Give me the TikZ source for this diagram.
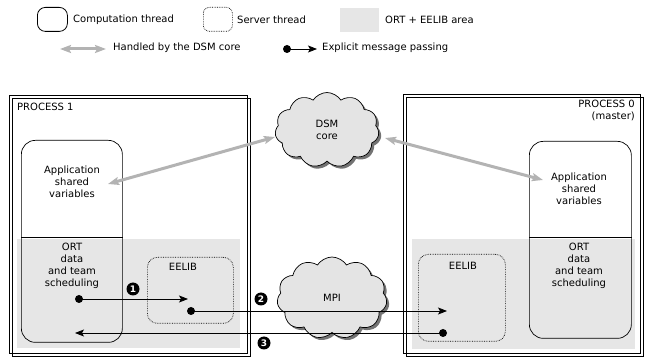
\documentclass[tikz,border=0pt]{standalone}
\usepackage{fontspec}
\setmainfont{DejaVu Sans}
\usetikzlibrary{arrows.meta,shapes.symbols,shadows}
\definecolor{areagray}{HTML}{E6E6E6}
\definecolor{dsmgray}{HTML}{B3B3B3}
\definecolor{cloudgray}{HTML}{E4E4E4}
\begin{document}
\begin{tikzpicture}[x=1pt,y=-1pt,font=\fontsize{10}{12}\selectfont,
  procbox/.style={draw,line width=0.6pt,anchor=north west,inner sep=0},
  areabox/.style={fill=areagray,anchor=north west,inner sep=0},
  compbox/.style={draw,line width=0.7pt,rounded corners=14pt,anchor=north west,inner sep=0},
  srvbox/.style={draw,line width=0.7pt,densely dotted,rounded corners=10pt,anchor=north west,inner sep=0},
  lbl/.style={inner sep=0,align=center},
  lglabel/.style={inner sep=0,anchor=west},
  cloudnode/.style={cloud,cloud puffs=11,cloud puff arc=115,cloud ignores aspect,draw,line width=0.7pt,fill=cloudgray,inner sep=0,
     drop shadow={shadow xshift=2.5pt,shadow yshift=-2.5pt,fill=black!55,opacity=1}},
  dsmarrow/.style={draw=dsmgray,line width=3pt,{Stealth[length=11pt,width=8pt,inset=2pt]}-{Stealth[length=11pt,width=8pt,inset=2pt]}},
  msg/.style={draw,line width=0.8pt,-{Stealth[length=9pt,width=7pt,inset=2pt]}},
  dot/.style={circle,fill=black,inner sep=0,minimum size=8pt},
  num/.style={circle,fill=black,text=white,inner sep=0,minimum size=13pt,font=\fontsize{9}{9}\selectfont\bfseries}]
\useasboundingbox (0,0) rectangle (649,358);

% ---------- legend ----------
\node[compbox,rounded corners=8pt,line width=0.8pt,minimum width=30pt,minimum height=24pt] (lgcomp) at (37,7) {};
\node[lglabel] (lgcomptxt) at (73,20) {Computation thread};
\node[srvbox,rounded corners=6pt,minimum width=29pt,minimum height=24pt] (lgsrv) at (203,7) {};
\node[lglabel] (lgsrvtxt) at (237,20) {Server thread};
\node[areabox,minimum width=39pt,minimum height=24pt] (lgarea) at (340,8) {};
\node[lglabel] (lgareatxt) at (385,20) {ORT + EELIB area};
\coordinate (lgdsmA) at (60,49);
\coordinate (lgdsmB) at (106,49);
\draw[dsmarrow] (lgdsmA) -- (lgdsmB);
\node[lglabel] (lgdsmtxt) at (113,48) {Handled by the DSM core};
\node[dot] (lgdot) at (287,49) {};
\coordinate (lgtip) at (317,49);
\draw[msg] (lgdot.center) -- (lgtip);
\node[lglabel] (lgmsgtxt) at (322,48) {Explicit message passing};

% ---------- process boxes ----------
\node[procbox,minimum width=238pt,minimum height=258pt] (p1b) at (12,98) {};
\node[procbox,minimum width=238pt,minimum height=258pt] (p1a) at (9,95) {};
\node[procbox,minimum width=237pt,minimum height=259pt] (p0b) at (406,97) {};
\node[procbox,minimum width=237pt,minimum height=259pt] (p0a) at (403,94) {};

\node[lglabel,anchor=west] (p1lbl) at (17,107) {PROCESS 1};
\node[lglabel,align=right,anchor=north east] (p0lbl) at (635,100) {PROCESS 0\\(master)};

% gray areas
\node[areabox,minimum width=223pt,minimum height=109pt] (area1) at (17,239) {};
\node[areabox,minimum width=223pt,minimum height=110pt] (area0) at (412,239) {};

% computation threads
\node[compbox,minimum width=101pt,minimum height=202pt] (c1) at (21,140) {};
\draw[line width=0.7pt] (c1.west |- 0,237) -- (c1.east |- 0,237);
\node[compbox,minimum width=102pt,minimum height=197pt] (c0) at (529,141) {};
\draw[line width=0.7pt] (c0.west |- 0,237) -- (c0.east |- 0,237);
\node[lbl] (app1) at (72,182) {Application\\shared\\variables};
\node[lbl] (ort1) at (72,266) {ORT\\data\\and team\\scheduling};
\node[lbl] (app0) at (579,189) {Application\\shared\\variables};
\node[lbl] (ort0) at (579,266) {ORT\\data\\and team\\scheduling};

% server threads
\node[srvbox,minimum width=86pt,minimum height=66pt] (e1) at (147,257) {};
\node[lbl] (e1txt) at (183,267) {EELIB};
\node[srvbox,minimum width=87pt,minimum height=87pt] (e0) at (418,254) {};
\node[lbl] (e0txt) at (463,266) {EELIB};

% clouds
\node[cloudnode,minimum width=104pt,minimum height=75pt,align=center] (dsm) at (327,130) {DSM\\core};
\node[cloudnode,minimum width=110pt,minimum height=82pt] (mpi) at (332,298) {MPI};

% DSM arrows
\coordinate (dsmL) at (275,137);
\coordinate (dsmR) at (385,138);
\coordinate (app1tip) at (108,184);
\coordinate (app0tip) at (543,180);
\draw[dsmarrow] (dsmL) -- (app1tip);
\draw[dsmarrow] (dsmR) -- (app0tip);

% message passing
\node[dot] (d1) at (79,299) {};
\coordinate (t1) at (188,299);
\draw[msg] (d1.center) -- (t1);
\node[dot] (d2) at (191,311) {};
\coordinate (t2) at (447,311);
\draw[msg] (d2.center) -- (t2);
\node[dot] (d3) at (443,333) {};
\coordinate (t3) at (75,333);
\draw[msg] (d3.center) -- (t3);

\node[num] (n1) at (133,289) {1};
\node[num] (n2) at (261,299) {2};
\node[num] (n3) at (264,343) {3};
\end{tikzpicture}
\end{document}
